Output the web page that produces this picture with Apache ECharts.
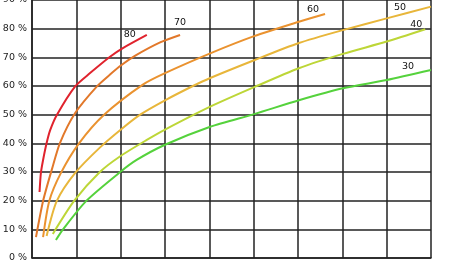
<!DOCTYPE html>
<html>
<head>
<meta charset="utf-8">
<script src="https://cdn.jsdelivr.net/npm/echarts@6/dist/echarts.min.js"></script>
<style>
html,body{margin:0;padding:0;background:#fff;}
#chart{width:460px;height:260px;}
</style>
</head>
<body>
<div id="chart"></div>
<script>
// Curve names
var curveNames = ['80', '70', '60', '50', '40', '30'];
// x positions (horizontal units, 0..90) and y values (%)
var x80 = [1.7, 2.0, 2.5, 3.3, 4.1, 5.6, 9.7, 13.1, 17.6, 20.5, 25.9];
var y80 = [23.0, 29.6, 34.2, 40.1, 44.6, 49.9, 59.8, 64.5, 70.2, 73.2, 77.8];
var x70 = [0.9, 2.5, 4.5, 6.3, 9.7, 14.6, 17.6, 20.2, 23.2, 28.9, 33.4];
var y70 = [7.3, 19.9, 31.0, 40.1, 50.5, 59.8, 64.0, 67.3, 70.5, 75.2, 77.8];
var x60 = [2.5, 3.9, 6.5, 10.6, 16.2, 25.0, 30.0, 40.2, 50.1, 60.2, 66.1];
var y60 = [7.3, 19.9, 29.6, 40.0, 49.9, 60.5, 64.5, 71.4, 77.4, 82.4, 85.1];
var x50 = [3.3, 5.6, 9.7, 15.3, 20.2, 24.4, 30.0, 36.3, 40.2, 50.1, 60.2, 70.1, 80.0, 90.0];
var y50 = [7.7, 19.9, 29.6, 38.5, 45.0, 50.0, 55.0, 60.0, 62.8, 69.0, 75.0, 79.5, 83.6, 87.7];
var x40 = [4.7, 9.5, 15.3, 19.9, 25.9, 30.0, 40.2, 50.1, 60.2, 70.1, 80.0, 88.7];
var y40 = [8.4, 19.9, 30.0, 35.5, 41.2, 44.8, 52.8, 59.6, 66.2, 71.2, 75.5, 79.8];
var x30 = [5.4, 7.0, 12.3, 19.9, 23.6, 30.0, 40.2, 50.1, 60.2, 70.1, 80.0, 90.0];
var y30 = [6.3, 10.0, 20.0, 30.0, 34.2, 39.5, 45.8, 50.2, 55.0, 59.2, 62.1, 65.6];
var yTicks = [0, 10, 20, 30, 40, 50, 60, 70, 80, 90];

var xs = [x80, x70, x60, x50, x40, x30];
var ys = [y80, y70, y60, y50, y40, y30];
var colors = ['#e0232d', '#e2782a', '#ea922f', '#e8b63a', '#bdd637', '#55d23c'];
var labelOffsets = [[-17, 0], [0, -12], [-12, -5], [-31, 1], [-9, -5], [-23, -3]];

function zip(a, b) { return a.map(function (v, i) { return [v, b[i]]; }); }

var series = curveNames.map(function (n, i) {
  return {
    name: n,
    type: 'line',
    data: zip(xs[i], ys[i]),
    showSymbol: false,
    symbol: 'none',
    smooth: 0.25,
    lineStyle: { color: colors[i], width: 2 },
    endLabel: {
      show: true,
      formatter: n,
      distance: 0,
      align: 'center',
      verticalAlign: 'middle',
      offset: labelOffsets[i],
      color: '#111',
      fontFamily: 'DejaVu Sans',
      fontSize: 9.5
    },
    silent: true,
    animation: false
  };
});

var chart = echarts.init(document.getElementById('chart'), null, { renderer: 'canvas' });
chart.setOption({
  animation: false,
  backgroundColor: '#fff',
  grid: { left: 32, right: 29, top: 0, bottom: 2, containLabel: false, outerBoundsMode: 'none' },
  xAxis: {
    type: 'value', min: 0, max: 90, interval: 10,
    axisLine: { show: true, lineStyle: { color: '#222', width: 1.5 } },
    axisTick: { show: false },
    axisLabel: { show: false },
    splitLine: { show: true, lineStyle: { color: '#222', width: 1.5 } }
  },
  yAxis: {
    type: 'value', min: 0, max: 90, interval: 10,
    axisLine: { show: true, lineStyle: { color: '#222', width: 1.5 } },
    axisTick: { show: false },
    axisLabel: {
      show: true, margin: 5, color: '#222',
      fontFamily: 'DejaVu Sans', fontSize: 9.5,
      verticalAlign: 'middle',
      verticalAlignMinLabel: 'middle',
      verticalAlignMaxLabel: 'middle',
      formatter: function (v) { return yTicks.indexOf(v) >= 0 ? v + ' %' : ''; }
    },
    splitLine: { show: true, lineStyle: { color: '#222', width: 1.5 } }
  },
  series: series
});
</script>
</body>
</html>
